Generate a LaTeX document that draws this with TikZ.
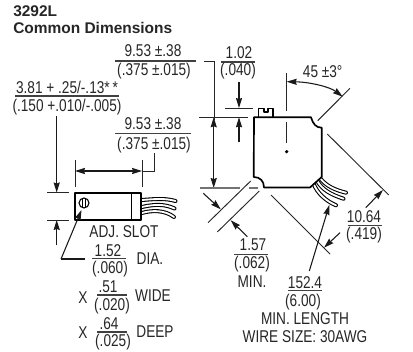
\documentclass[tikz,border=0pt]{standalone}
\usepackage{fontspec}
\setmainfont{Liberation Sans}[FakeStretch=0.8]
\newfontfamily\titlefont{Liberation Sans}[BoldFont={Liberation Sans Bold}]
\usetikzlibrary{arrows.meta}
\tikzset{
  x=0.75pt,y=-0.75pt,
  lab/.style={inner sep=0pt,font=\fontsize{12.8pt}{13pt}\selectfont,text=black!85},
  ttl/.style={inner sep=0pt,anchor=base west,text=black!85,font=\titlefont\bfseries\fontsize{11.6pt}{13pt}\selectfont},
  dim/.style={line width=0.8pt,draw=black!90},
  frac/.style={line width=0.9pt,draw=black!75},
  ext/.style={line width=0.7pt,draw=black!85},
  body/.style={line width=1.25pt,line join=round},
  arr/.style={dim,-{Stealth[length=7.5pt,width=4.6pt,inset=0.8pt]}},
  arrb/.style={dim,{Stealth[length=7.5pt,width=4.6pt,inset=0.8pt]}-{Stealth[length=7.5pt,width=4.6pt,inset=0.8pt]}},
  wire/.style={line width=0.8pt,double=white,double distance=1.4pt,line cap=round},
}
\begin{document}
\begin{tikzpicture}
\useasboundingbox (0,0) rectangle (413,352);
% titles
\node[ttl] (t1) at (13,17) {3292L};
\node[ttl] (t2) at (13,34) {Common Dimensions};
% left dimension labels
\node[lab] (a1) at (153,51) {9.53 ±.38};
\draw[frac] (115,61) -- (196,61);
\node[lab] (a2) at (154,71) {(.375 ±.015)};
\node[lab] (b1) at (67,87) {3.81 + .25/-.13*\,*};
\draw[frac] (15,96) -- (119,96);
\node[lab] (b2) at (67,107) {(.150 +.010/-.005)};
\node[lab] (c1) at (153,124) {9.53 ±.38};
\draw[frac] (115,133.5) -- (191,133.5);
\node[lab] (c2) at (154,145) {(.375 ±.015)};
% side view dims
\draw[ext] (154,153) -- (154,171) -- (142,171);
\draw[ext] (75,160) -- (75,187);
\draw[ext] (142,160) -- (142,187);
\draw[arrb] (75,171) -- (142,171);
\draw[arr] (56.7,116) -- (56.7,192.5);
\draw[ext] (47,192.7) -- (69,192.7);
\draw[ext] (47,220) -- (69,220);
\draw[arr] (56.7,245) -- (56.7,220);
% side view body
\draw[wire] (142,200) .. controls (155,199) and (165,198) .. (175.5,201);
\draw[wire] (142,207) .. controls (155,204) and (165,204) .. (174.5,208.5);
\draw[wire] (142,213) .. controls (152,210) and (165,210) .. (174,217);
\draw[body,fill=white] (75,193) rectangle (141,220);
\draw[line width=0.7pt] (131,193) -- (131,220);
\draw[line width=0.8pt] (84,203) circle (5);
\draw[line width=0.7pt] (82.8,198.5) -- (82.8,207.5) (85.2,198.5) -- (85.2,207.5);
\draw[dim] (85,259) -- (61,259);
\draw[arr] (61,259) -- (81.5,210);
% side labels
\node[lab] (adj) at (124,232) {ADJ. SLOT};
\node[lab] (d1) at (108,251) {1.52};
\draw[frac] (92,258.7) -- (126,258.7);
\node[lab] (d2) at (110,269) {(.060)};
\node[lab] (d3) at (150,259) {DIA.};
\node[lab] (x1) at (83,298) {X};
\node[lab] (e1) at (108,287) {.51};
\draw[frac] (97,295) -- (127,295);
\node[lab] (e2) at (112,306) {(.020)};
\node[lab] (e3) at (153,296) {WIDE};
\node[lab] (x2) at (83,333) {X};
\node[lab] (f1) at (109,324) {.64};
\draw[frac] (97,332) -- (127,332);
\node[lab] (f2) at (113,342) {(.025)};
\node[lab] (f3) at (155,332) {DEEP};
% height dimension
\draw[ext] (204,61) -- (214,61) -- (214,120);
\draw[ext] (199,117.3) -- (248,117.3);
\draw[arrb] (213.7,117.3) -- (213.7,188);
\draw[line width=0.8pt,draw=black!55] (200,188) -- (240,188) (248.5,188) -- (258,188);
% 1.02
\node[lab] (g1) at (239,53) {1.02};
\draw[frac] (221,62) -- (255,62);
\node[lab] (g2) at (238,71) {(.040)};
\draw[arr] (239,82) -- (239,108);
\draw[ext] (225,108) -- (253,108);
\draw[arr] (239,142) -- (239,117.3);
% wires front
\draw[wire] (320,178) .. controls (326,186) and (335,190) .. (346,192.7);
\draw[wire] (317,180.5) .. controls (322,190) and (332,195) .. (343.5,198.7);
\draw[wire] (313.5,183.5) .. controls (317,193) and (326,201) .. (336,205.3);
% front body
\draw[body,fill=white] (254,117.3) -- (311,117.3) .. controls (313,124) and (316,127.7) .. (321.7,127.7)
  -- (321.7,177) -- (310,187.5) -- (264,187.5) .. controls (264,181) and (260,177) .. (253.7,177) -- cycle;
\draw[line width=0.9pt,line join=round] (258.7,117) -- (258.7,108.7) -- (264,108.7) -- (264,112) -- (268,112) -- (268,108.7) -- (273,108.7) -- (273,117);
\fill (286.7,151.7) circle (1.8);
\draw[ext] (286.7,73) -- (286.7,110.7) (286.7,122) -- (286.7,143);
% angle
\draw[arrb] (286.7,81.7) .. controls (310,82) and (330,87) .. (342.7,96.7);
\draw[ext] (317.7,120.7) -- (350,88.3);
\node[lab] (h) at (322.7,72) {45 ±3°};
% right diagonals
\draw[ext] (327.3,134) -- (388.7,195);
\draw[ext] (271,195) -- (330,254);
\draw[arr] (365.7,207.7) -- (383,190);
\draw[arr] (340,232.7) -- (324,247.7);
\draw[arr] (309.3,271) -- (329.3,205);
\node[lab] (i1) at (364,216.7) {10.64};
\draw[frac] (347.7,225.7) -- (381.7,225.7);
\node[lab] (i2) at (364,235) {(.419)};
\node[lab] (j1) at (305,282.7) {152.4};
\draw[frac] (288,290.7) -- (322,290.7);
\node[lab] (j2) at (303,301.7) {(6.00)};
\node[lab] (j3) at (305,319) {MIN. LENGTH};
\node[lab] (j4) at (305,337) {WIRE SIZE: 30AWG};
% left diagonals
\draw[ext] (250.7,181) -- (208,222.7);
\draw[ext] (259.3,191) -- (217.3,232);
\draw[arr] (203.3,193.3) -- (220.7,209.3);
\draw[arr] (247.3,236.7) -- (230.7,220.3);
\node[lab] (k1) at (253,245) {1.57};
\draw[frac] (234,254.3) -- (268,254.3);
\node[lab] (k2) at (252,263.7) {(.062)};
\node[lab] (k3) at (252,281.7) {MIN.};
\end{tikzpicture}
\end{document}
